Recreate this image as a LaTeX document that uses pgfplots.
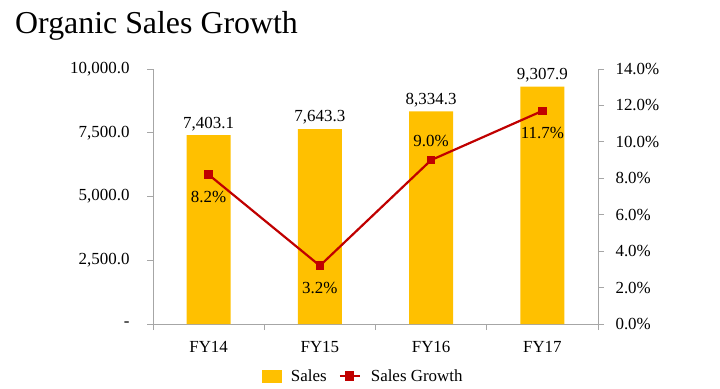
\documentclass[border=0pt]{standalone}
\usepackage{fontspec}
\setmainfont{Liberation Serif}
\usepackage{pgfplots}
\pgfplotsset{compat=1.18}
\definecolor{gold}{HTML}{FFC000}
\definecolor{dred}{HTML}{C00000}
\definecolor{axgray}{HTML}{A6A6A6}
\pgfplotsset{
  common/.style={
    at={(153bp,64bp)}, anchor=south west,
    scale only axis, width=445bp, height=255bp,
    xmin=-0.5, xmax=3.5,
    tick align=outside,
    major tick length=6bp, minor tick length=6bp,
    axis line style={draw=axgray,-},
    tick style={draw=axgray, line width=0.8bp},
    tick label style={font=\fontsize{17}{20}\selectfont, text=black},
    scaled y ticks=false,
    /pgf/number format/assume math mode=true,
  }
}
\begin{document}
\begin{tikzpicture}[x=1bp,y=1bp]
\path[use as bounding box] (0,0) rectangle (720,388);
\node[anchor=base west, inner sep=0, font=\fontsize{32}{38}\selectfont] at (15,355) {Organic Sales Growth};
\begin{axis}[common,
  axis x line*=bottom, axis y line*=left,
  ymin=0, ymax=10000,
  ytick={0,2500,5000,7500,10000},
  yticklabels={{-},{2,500.0},{5,000.0},{7,500.0},{10,000.0}},
  yticklabel style={xshift=-14bp},
  xtick={0,1,2,3}, xticklabels={FY14,FY15,FY16,FY17},
  xticklabel style={yshift=-8bp},
  major x tick style={draw=none},
  minor xtick={-0.5,0.5,1.5,2.5,3.5},
  ybar, bar width=44bp,
  point meta=explicit symbolic,
  nodes near coords,
  every node near coord/.append style={font=\fontsize{17}{20}\selectfont, yshift=1bp},
]
\addplot[fill=gold, draw=none] coordinates {
  (0,7403.1) [7,403.1]
  (1,7643.3) [7,643.3]
  (2,8334.3) [8,334.3]
  (3,9307.9) [9,307.9]
};
\end{axis}
\begin{axis}[common,
  axis y line*=right, axis x line=none,
  ymin=0, ymax=14,
  ytick={0,2,4,6,8,10,12,14},
  yticklabel={\pgfmathprintnumber[fixed,fixed zerofill,precision=1]{\tick}\%},
  yticklabel style={xshift=8bp},
  legend style={at={(0.472,-0.204)}, anchor=center, draw=none,
    font=\fontsize{17}{20}\selectfont, column sep=8bp,
    /tikz/every even column/.append style={column sep=10bp}},
  legend columns=2,
  legend image code/.code={\draw[#1] (0bp,0bp) -- (20bp,0bp);},
]
\addlegendimage{legend image code/.code={\fill[gold] (0bp,-6bp) rectangle (19bp,6bp);}}
\addlegendentry{Sales}
\addplot[dred, line width=2.2bp, mark=square*, mark size=3.2bp, mark options={fill=dred},
  legend image code/.code={\draw[dred, line width=2.2bp] (0bp,0bp) -- (20bp,0bp);
    \fill[dred] (6.5bp,-3.5bp) rectangle (13.5bp,3.5bp);}]
  coordinates {(0,8.2) (1,3.2) (2,9.0) (3,11.7)};
\addlegendentry{Sales Growth}
\addplot[draw=none, mark=none, forget plot, point meta=explicit symbolic,
  nodes near coords, nodes near coords align=below,
  every node near coord/.append style={font=\fontsize{17}{20}\selectfont, yshift=-13bp}]
  coordinates {(0,8.2) [8.2\%] (1,3.2) [3.2\%] (3,11.7) [11.7\%]};
\addplot[draw=none, mark=none, forget plot, point meta=explicit symbolic,
  nodes near coords, nodes near coords align=above,
  every node near coord/.append style={font=\fontsize{17}{20}\selectfont, yshift=10bp}]
  coordinates {(2,9.0) [9.0\%]};
\end{axis}
\end{tikzpicture}
\end{document}
